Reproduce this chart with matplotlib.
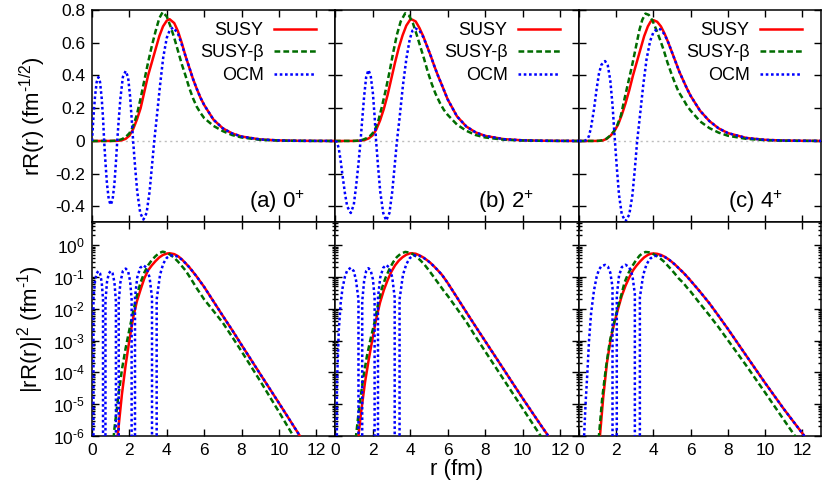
import matplotlib
matplotlib.use('Agg')
import matplotlib.pyplot as plt
import numpy as np
from matplotlib.ticker import FixedLocator, LogLocator, NullFormatter

plt.rcParams['font.family'] = ['Liberation Sans', 'DejaVu Sans']
plt.rcParams['mathtext.fontset'] = 'custom'
plt.rcParams['mathtext.rm'] = 'Liberation Sans'
plt.rcParams['mathtext.it'] = 'Liberation Sans:italic'
plt.rcParams['mathtext.default'] = 'regular'

# ---------------- data: rR(r) ----------------
# panel (a) 0+
r_susy_0 = [0, 1.0, 1.2, 1.4, 1.6, 1.8, 2.0, 2.2, 2.4, 2.6, 2.8, 3.0, 3.2, 3.4, 3.6, 3.8, 4.0, 4.15, 4.4, 4.6,
            4.8, 5.0, 5.2, 5.4, 5.6, 5.8, 6.0, 6.5, 7.0, 7.5, 8.0, 9.0, 10.0, 11.0, 12.0, 13.0]
susy_0 = [0, 0.0001, 0.0004, 0.0012, 0.0045, 0.013, 0.032, 0.072, 0.13, 0.20, 0.30, 0.40, 0.48, 0.56, 0.64, 0.70,
          0.735, 0.744, 0.72, 0.67, 0.60, 0.52, 0.45, 0.38, 0.32, 0.265, 0.22, 0.13, 0.077, 0.046, 0.027, 0.0094,
          0.0033, 0.00114, 0.00039, 0.000138]
r_beta_0 = [0, 1.0, 1.2, 1.4, 1.6, 1.8, 2.0, 2.2, 2.4, 2.6, 2.8, 3.0, 3.2, 3.4, 3.6, 3.78, 4.0, 4.2, 4.4, 4.6,
            4.8, 5.0, 5.2, 5.4, 5.6, 5.8, 6.0, 6.5, 7.0, 7.5, 8.0, 9.0, 10.0, 11.0, 12.0, 13.0]
beta_0 = [0, 0.0003, 0.0013, 0.004, 0.011, 0.024, 0.047, 0.09, 0.16, 0.26, 0.37, 0.48, 0.58, 0.67, 0.75, 0.787,
          0.76, 0.70, 0.63, 0.55, 0.47, 0.40, 0.325, 0.262, 0.21, 0.172, 0.14, 0.092, 0.06, 0.036, 0.0214, 0.0073,
          0.0024, 0.00077, 0.00025, 0.00008]
r_ocm_0 = [0, 0.08, 0.16, 0.25, 0.34, 0.43, 0.52, 0.59, 0.65, 0.72, 0.8, 0.9, 1.0, 1.1, 1.2, 1.28, 1.35, 1.43,
           1.52, 1.65, 1.8, 1.93, 2.04, 2.12, 2.2, 2.3, 2.42, 2.58, 2.75, 2.92, 3.08, 3.21, 3.33, 3.46, 3.64, 3.81,
           4.0, 4.17, 4.35, 4.6, 4.8, 5.0, 5.2, 5.4, 5.6, 5.8, 6.0, 6.5, 7.0, 7.5, 8.0, 9.0, 10.0, 11.0, 12.0, 13.0]
ocm_0 = [0, 0.15, 0.27, 0.36, 0.39, 0.36, 0.26, 0.14, 0, -0.13, -0.26, -0.36, -0.39, -0.36, -0.26, -0.13, 0, 0.13,
         0.26, 0.39, 0.427, 0.39, 0.27, 0.14, 0, -0.15, -0.31, -0.44, -0.48, -0.44, -0.31, -0.15, 0, 0.14, 0.34,
         0.51, 0.63, 0.68, 0.693, 0.655, 0.59, 0.52, 0.45, 0.38, 0.32, 0.265, 0.22, 0.13, 0.077, 0.046, 0.027,
         0.0094, 0.0033, 0.00114, 0.00039, 0.000138]

# panel (b) 2+
r_susy_2 = [0, 1.0, 1.25, 1.4, 1.6, 1.8, 2.0, 2.2, 2.4, 2.6, 2.8, 3.0, 3.2, 3.4, 3.6, 3.8, 4.0, 4.1, 4.3, 4.5,
            4.7, 4.9, 5.1, 5.3, 5.5, 5.7, 6.0, 6.5, 7.0, 7.5, 8.0, 9.0, 10.0, 11.0, 12.0, 13.0]
susy_2 = [0, 0.0002, 0.001, 0.0025, 0.007, 0.016, 0.034, 0.07, 0.125, 0.195, 0.28, 0.38, 0.48, 0.57, 0.645, 0.705,
          0.74, 0.742, 0.73, 0.69, 0.64, 0.58, 0.52, 0.455, 0.395, 0.34, 0.255, 0.15, 0.088, 0.052, 0.031, 0.011,
          0.0039, 0.00143, 0.00054, 0.0002]
r_beta_2 = [0, 0.9, 1.12, 1.3, 1.5, 1.7, 1.9, 2.1, 2.3, 2.5, 2.7, 2.9, 3.1, 3.3, 3.5, 3.74, 3.95, 4.15, 4.35,
            4.55, 4.75, 4.95, 5.15, 5.35, 5.6, 5.8, 6.0, 6.5, 7.0, 7.5, 8.0, 9.0, 10.0, 11.0, 12.0, 13.0]
beta_2 = [0, 0.0002, 0.001, 0.003, 0.008, 0.018, 0.034, 0.06, 0.12, 0.21, 0.31, 0.42, 0.54, 0.65, 0.73, 0.78,
          0.765, 0.72, 0.65, 0.575, 0.50, 0.42, 0.35, 0.29, 0.23, 0.19, 0.16, 0.10, 0.062, 0.036, 0.0214, 0.0076,
          0.0027, 0.00096, 0.00034, 0.00012]
r_ocm_2 = [0, 0.1, 0.2, 0.3, 0.4, 0.53, 0.65, 0.84, 1.0, 1.12, 1.25, 1.36, 1.45, 1.55, 1.66, 1.78, 1.9, 2.02,
           2.11, 2.19, 2.29, 2.41, 2.57, 2.73, 2.9, 3.05, 3.18, 3.30, 3.44, 3.62, 3.8, 3.98, 4.13, 4.28, 4.5, 4.7,
           4.9, 5.1, 5.3, 5.5, 5.7, 6.0, 6.5, 7.0, 7.5, 8.0, 9.0, 10.0, 11.0, 12.0, 13.0]
ocm_2 = [0, -0.006, -0.045, -0.12, -0.21, -0.32, -0.40, -0.44, -0.39, -0.28, -0.14, 0, 0.13, 0.27, 0.39, 0.433,
         0.40, 0.29, 0.15, 0, -0.15, -0.31, -0.44, -0.486, -0.44, -0.31, -0.15, 0, 0.14, 0.34, 0.50, 0.62, 0.675,
         0.687, 0.675, 0.635, 0.58, 0.52, 0.455, 0.395, 0.34, 0.255, 0.15, 0.088, 0.052, 0.031, 0.011, 0.0039,
         0.00143, 0.00054, 0.0002]

# panel (c) 4+
r_susy_4 = [0, 0.9, 1.125, 1.3, 1.5, 1.7, 1.9, 2.1, 2.3, 2.5, 2.7, 2.9, 3.1, 3.3, 3.5, 3.7, 3.85, 4.0, 4.2, 4.4,
            4.6, 4.8, 5.0, 5.2, 5.4, 5.6, 5.8, 6.0, 6.5, 7.0, 7.5, 8.0, 9.0, 10.0, 11.0, 12.0, 13.0]
susy_4 = [0, 0.0002, 0.001, 0.004, 0.014, 0.033, 0.06, 0.10, 0.16, 0.23, 0.31, 0.40, 0.48, 0.56, 0.64, 0.70, 0.73,
          0.738, 0.728, 0.70, 0.655, 0.60, 0.54, 0.48, 0.42, 0.37, 0.32, 0.275, 0.185, 0.122, 0.077, 0.048, 0.018,
          0.0068, 0.00266, 0.0011, 0.00045]
r_beta_4 = [0, 0.85, 1.07, 1.25, 1.45, 1.65, 1.85, 2.05, 2.25, 2.45, 2.65, 2.85, 3.05, 3.25, 3.4, 3.57, 3.75, 3.95,
            4.15, 4.35, 4.55, 4.75, 4.95, 5.15, 5.35, 5.6, 5.8, 6.0, 6.5, 7.0, 7.5, 8.0, 9.0, 10.0, 11.0, 12.0, 13.0]
beta_4 = [0, 0.0002, 0.001, 0.004, 0.012, 0.03, 0.055, 0.095, 0.155, 0.26, 0.36, 0.46, 0.57, 0.68, 0.74, 0.778,
          0.77, 0.735, 0.68, 0.62, 0.555, 0.48, 0.415, 0.355, 0.30, 0.255, 0.215, 0.185, 0.12, 0.079, 0.051, 0.032,
          0.0126, 0.0048, 0.0018, 0.00068, 0.00027]
r_ocm_4 = [0, 0.2, 0.3, 0.36, 0.45, 0.54, 0.65, 0.8, 0.95, 1.07, 1.2, 1.4, 1.55, 1.68, 1.8, 1.93, 2.03, 2.15, 2.3,
           2.5, 2.7, 2.87, 3.0, 3.125, 3.27, 3.45, 3.63, 3.82, 4.0, 4.23, 4.4, 4.6, 4.8, 5.0, 5.2, 5.4, 5.6, 5.8,
           6.0, 6.5, 7.0, 7.5, 8.0, 9.0, 10.0, 11.0, 12.0, 13.0]
ocm_4 = [0, 0.0003, 0.0015, 0.0035, 0.01, 0.032, 0.085, 0.19, 0.32, 0.41, 0.465, 0.488, 0.46, 0.37, 0.22, 0,
         -0.16, -0.33, -0.45, -0.49, -0.45, -0.33, -0.17, 0, 0.15, 0.34, 0.50, 0.61, 0.665, 0.687, 0.68, 0.65,
         0.60, 0.54, 0.48, 0.42, 0.37, 0.32, 0.275, 0.185, 0.122, 0.077, 0.048, 0.018, 0.0068, 0.00266, 0.0011,
         0.00045]

panel_labels = ['(a) 0$^{+}$', '(b) 2$^{+}$', '(c) 4$^{+}$']
series_names = ['SUSY', 'SUSY-β', 'OCM']
x_ticks = [0, 2, 4, 6, 8, 10, 12]
x_ticklabels = ['0', '2', '4', '6', '8', '10', '12']
top_yticks = [-0.4, -0.2, 0, 0.2, 0.4, 0.6, 0.8]
top_yticklabels = ['-0.4', '-0.2', '0', '0.2', '0.4', '0.6', '0.8']
bot_yticks = [1e-6, 1e-5, 1e-4, 1e-3, 1e-2, 1e-1, 1e0]
bot_yticklabels = ['10$^{\\text{-}6}$', '10$^{\\text{-}5}$', '10$^{\\text{-}4}$', '10$^{\\text{-}3}$',
                   '10$^{\\text{-}2}$', '10$^{\\text{-}1}$', '10$^{0}$']

panels = [
    [(r_susy_0, susy_0), (r_beta_0, beta_0), (r_ocm_0, ocm_0)],
    [(r_susy_2, susy_2), (r_beta_2, beta_2), (r_ocm_2, ocm_2)],
    [(r_susy_4, susy_4), (r_beta_4, beta_4), (r_ocm_4, ocm_4)],
]

# ---------------- styles ----------------
styles = [
    dict(color='#ff0000', lw=1.8, ls='-'),
    dict(color='#006c00', lw=1.8, ls=(0, (2.3, 1.25))),
    dict(color='#0000ff', lw=1.8, ls=(0, (1.05, 1.05))),
]

W, H = 830, 482
fig = plt.figure(figsize=(W / 100, H / 100), dpi=100)
lefts = [92, 335, 579]
rights = [335, 579, 821]
top_y0, top_y1 = 10, 222
bot_y0, bot_y1 = 222, 436
label_right_px = [305, 534, 783]
label_y_px = 202

TICK_FS = 12.5
LEG_FS = 13
LAB_FS = 16


def tick_setup(ax):
    ax.tick_params(which='both', direction='in', top=True, right=True, width=1.0, labelsize=TICK_FS, pad=5)
    ax.tick_params(which='major', length=5)
    ax.tick_params(which='minor', length=2.5)
    for s in ax.spines.values():
        s.set_linewidth(1.1)


for i in range(3):
    x0 = lefts[i] / W
    w = (rights[i] - lefts[i]) / W
    ax_t = fig.add_axes([x0, 1 - top_y1 / H, w, (top_y1 - top_y0) / H])
    ax_b = fig.add_axes([x0, 1 - bot_y1 / H, w, (bot_y1 - bot_y0) / H])

    ax_t.axhline(0, color='#bdbdbd', lw=1.0, ls=(0, (1.5, 2.5)), zorder=1)
    handles = []
    for (rr, vv), st, nm in zip(panels[i], styles, series_names):
        rr = np.asarray(rr, dtype=float)
        vv = np.asarray(vv, dtype=float)
        h, = ax_t.plot(rr, vv, label=nm, zorder=3, **st)
        handles.append(h)
        ax_b.plot(rr, vv ** 2, zorder=3, **st)

    # top axes
    ax_t.set_xlim(0, 13)
    ax_t.set_ylim(-0.495, 0.8)
    ax_t.xaxis.set_major_locator(FixedLocator(x_ticks))
    ax_t.set_xticklabels([])
    ax_t.yaxis.set_major_locator(FixedLocator(top_yticks))
    if i == 0:
        ax_t.set_yticklabels(top_yticklabels)
    else:
        ax_t.set_yticklabels([])
    tick_setup(ax_t)
    ax_t.legend(handles=handles, loc='upper right',
                bbox_to_anchor=(1 - 19 / (rights[i] - lefts[i]), 1 - 12 / (top_y1 - top_y0)),
                frameon=False, markerfirst=False, handlelength=2.35, handletextpad=0.55,
                labelspacing=0.3, borderaxespad=0, borderpad=0, fontsize=LEG_FS)
    ax_t.text((label_right_px[i] - lefts[i]) / (rights[i] - lefts[i]),
              (top_y1 - label_y_px) / (top_y1 - top_y0), panel_labels[i],
              transform=ax_t.transAxes, ha='right', va='center', fontsize=LAB_FS)

    # bottom axes
    ax_b.set_yscale('log')
    ax_b.set_xlim(0, 13)
    ax_b.set_ylim(1e-6, 5.3)
    ax_b.xaxis.set_major_locator(FixedLocator(x_ticks))
    ax_b.set_xticklabels(x_ticklabels)
    ax_b.yaxis.set_major_locator(FixedLocator(bot_yticks))
    ax_b.yaxis.set_minor_locator(LogLocator(base=10, subs=np.arange(2, 10), numticks=20))
    ax_b.yaxis.set_minor_formatter(NullFormatter())
    if i == 0:
        ax_b.set_yticklabels(bot_yticklabels)
    else:
        ax_b.set_yticklabels([])
    tick_setup(ax_b)

fig.text(33 / W, 1 - 116 / H, 'rR(r) (fm$^{\\text{-}1/2}$)', rotation=90, ha='center', va='center',
         fontsize=LAB_FS)
fig.text(31 / W, 1 - 329 / H, '|rR(r)|$^{2}$ (fm$^{\\text{-}1}$)', rotation=90, ha='center', va='center',
         fontsize=LAB_FS)
fig.text(457 / W, 1 - 469 / H, 'r (fm)', ha='center', va='center', fontsize=LAB_FS)

fig.savefig('out.png', dpi=100)
